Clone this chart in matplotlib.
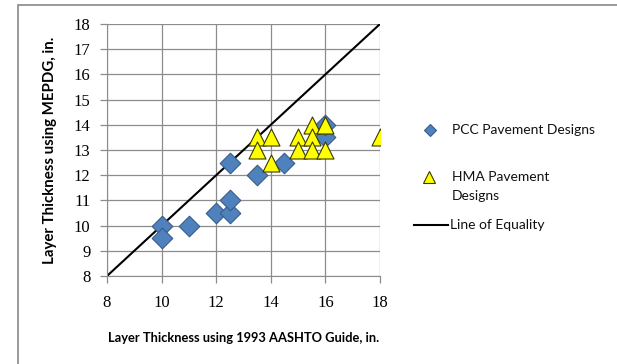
import matplotlib.pyplot as plt
from matplotlib.patches import Rectangle
from matplotlib.lines import Line2D

# PCC pavement designs (AASHTO 1993 vs MEPDG thickness, in.)
pcc_aashto = [10, 10, 11, 12, 12.5, 12.5, 12.5, 13.5, 14.5, 16, 16]
pcc_mepdg = [10, 9.5, 10, 10.5, 10.5, 11, 12.5, 12, 12.5, 13.5, 14]

# HMA pavement designs
hma_aashto = [13.5, 13.5, 14, 14, 15, 15, 15.5, 15.5, 15.5, 16, 16, 18]
hma_mepdg = [13.5, 13, 13.5, 12.5, 13.5, 13, 14, 13.5, 13, 14, 13, 13.5]

equality = [8, 18]

W, H = 617, 364
fig = plt.figure(figsize=(W / 100, H / 100), dpi=100)
ax = fig.add_axes([107 / W, 1 - 276 / H, (380 - 107) / W, (276 - 24) / H])


def fx(px):
    return px / W


def fy(py):
    return 1 - py / H


# outer chart frame (runs off the right and bottom edges, like the original)
fig.patches.append(Rectangle((fx(18), -0.1), 1.2, fy(5) + 0.1,
                             transform=fig.transFigure, fill=False,
                             edgecolor='#888888', linewidth=1.2))

pcc_style = dict(marker='D', color='#4F81BD', edgecolor='#385D8A', linewidth=0.8)
hma_style = dict(marker='^', color='#FFFF00', edgecolor='#3a3a00', linewidth=0.8)

ax.plot(equality, equality, color='black', linewidth=1.5, zorder=2)
ax.scatter(pcc_aashto, pcc_mepdg, s=110, zorder=3,
           marker=pcc_style['marker'], color=pcc_style['color'],
           edgecolors=pcc_style['edgecolor'], linewidths=0.8)
ax.scatter(hma_aashto, hma_mepdg, s=150, zorder=4,
           marker=hma_style['marker'], color=hma_style['color'],
           edgecolors=hma_style['edgecolor'], linewidths=0.8)

ax.set_xlim(8, 18)
ax.set_ylim(8, 18)
ax.set_xticks(range(8, 19, 2))
ax.set_yticks(range(8, 19))
ax.grid(True, color='#8c8c8c', linewidth=0.9)
ax.set_axisbelow(True)
for side in ['top', 'right']:
    ax.spines[side].set_visible(False)
for side in ['left', 'bottom']:
    ax.spines[side].set_color('#8c8c8c')
ax.tick_params(direction='out', length=5, color='#8c8c8c', width=0.9)
ax.tick_params(axis='x', pad=9)
ax.tick_params(axis='y', pad=7)
for lab in ax.get_xticklabels() + ax.get_yticklabels():
    lab.set_fontfamily('Liberation Serif')
    lab.set_fontsize(12)

ax.set_xlabel('Layer Thickness using 1993 AASHTO Guide, in.', fontfamily='Lato',
              fontweight='bold', fontsize=9.3, labelpad=15)
ax.set_ylabel('Layer Thickness using MEPDG, in.', fontfamily='Lato',
              fontweight='bold', fontsize=10.8, labelpad=12)

# legend, laid out by hand like the Excel original
text_kw = dict(fontfamily='Lato', fontsize=10, color='#111111',
               transform=fig.transFigure, va='center', ha='left')
fig.add_artist(Line2D([fx(430)], [fy(130)], transform=fig.transFigure,
                      marker='D', markersize=6.5, linestyle='none',
                      markerfacecolor='#4F81BD', markeredgecolor='#385D8A',
                      markeredgewidth=0.8))
fig.text(fx(452), fy(130), 'PCC Pavement Designs', **text_kw)

fig.add_artist(Line2D([fx(429)], [fy(177)], transform=fig.transFigure,
                      marker='^', markersize=8, linestyle='none',
                      markerfacecolor='#FFFF00', markeredgecolor='#3a3a00',
                      markeredgewidth=0.8))
fig.text(fx(452), fy(177), 'HMA Pavement', **text_kw)
fig.text(fx(452), fy(196), 'Designs', **text_kw)

fig.add_artist(Line2D([fx(414), fx(448)], [fy(225), fy(225)],
                      transform=fig.transFigure, color='black', linewidth=1.5))
fig.text(fx(450), fy(225), 'Line of Equality', **text_kw)

fig.savefig('out.png', dpi=100)
